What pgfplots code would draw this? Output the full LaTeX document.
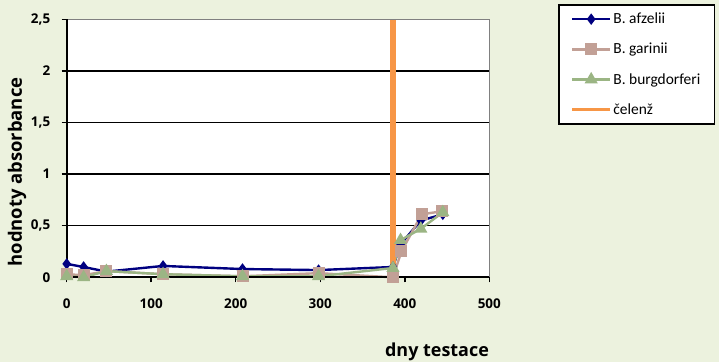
\documentclass[border=0pt]{standalone}
\usepackage{pgfplots}
\pgfplotsset{compat=1.18}
\usepackage{fontspec}
\setmainfont{Carlito}
\newfontfamily\labelfont{Open Sans}

\definecolor{bgcol}{RGB}{236,242,222}
\definecolor{afz}{RGB}{0,0,128}
\definecolor{gar}{RGB}{194,160,150}
\definecolor{bur}{RGB}{155,181,132}
\definecolor{cel}{RGB}{247,150,70}

\begin{document}
\begin{tikzpicture}
\fill[bgcol] (0,0) rectangle (719bp,362bp);
\useasboundingbox (0,0) rectangle (719bp,362bp);
\begin{axis}[
  at={(66.7bp,84.7bp)}, anchor=south west,
  scale only axis, width=422.6bp, height=258bp,
  xmin=0, xmax=500, ymin=0, ymax=2.5,
  xtick={0,100,...,500}, ytick={0,0.5,...,2.5},
  xticklabels={0,100,200,300,400,500},
  yticklabels={0,{0,5},1,{1,5},2,{2,5}},
  xtick pos=lower, ytick pos=left,
  tick align=outside, major tick length=5bp,
  tick style={black, line width=1.5bp},
  ymajorgrids, major grid style={black, line width=1.5bp},
  axis line style={draw=none},
  axis background/.style={fill=white},
  ticklabel style={font=\labelfont\bfseries\fontsize{13.5}{15}\selectfont},
  xticklabel style={yshift=-13bp},
  yticklabel style={xshift=-8bp},
  clip=false,
  legend cell align=left,
  legend style={at={(1.163,1.058)}, anchor=north west, draw=black,
    line width=1.5bp, fill=white, row sep=14bp,
    inner xsep=12bp, inner ysep=6bp,
    font=\fontsize{15.5}{18}\selectfont},
  legend image code/.code={\draw[mark repeat=2,mark phase=2]
    plot coordinates {(0bp,0bp) (19bp,0bp) (38bp,0bp)};},
]
\addplot[afz, line width=2.4bp, mark=diamond*, mark size=3.8bp,
  mark options={solid, fill=afz}] coordinates {
  (0,0.13) (20,0.10) (47,0.055) (114,0.11) (208,0.08) (298,0.07)
  (386,0.10) (395,0.32) (419,0.55) (445,0.61)};
\addlegendentry{B. afzelii}
\addplot[gar, line width=2.4bp, mark=square*, mark size=4.8bp,
  mark options={solid, fill=gar}] coordinates {
  (0,0.03) (20,0.02) (47,0.06) (114,0.03) (208,0.01) (298,0.04)
  (386,0.0) (396,0.25) (420,0.61) (444,0.64)};
\addlegendentry{B. garinii}
\addplot[bur, line width=2.4bp, mark=triangle*, mark size=5.2bp,
  mark options={solid, fill=bur}] coordinates {
  (0,0.01) (20,0.0) (47,0.06) (114,0.03) (208,0.01) (298,0.01)
  (386,0.09) (395,0.36) (419,0.47) (445,0.63)};
\addlegendentry{B. burgdorferi}
\addplot[cel, line width=5.5bp, forget plot] coordinates {(386,0) (386,2.5)};
\addlegendimage{cel, line width=2.5bp}
\addlegendentry{čelenž}
% frame: dark left/bottom, grey top/right
\draw[gray, line width=1.5bp] (rel axis cs:0,1) -- (rel axis cs:1,1) -- (rel axis cs:1,0);
\draw[black, line width=2bp] (rel axis cs:0,1) -- (rel axis cs:0,0) -- (rel axis cs:1,0);
\end{axis}
\node[font=\labelfont\bfseries\fontsize{18.5}{20}\selectfont, rotate=90] at (17bp,190bp) {hodnoty absorbance};
\node[font=\labelfont\bfseries\fontsize{18}{20}\selectfont] at (437bp,10bp) {dny testace};
\end{tikzpicture}
\end{document}
